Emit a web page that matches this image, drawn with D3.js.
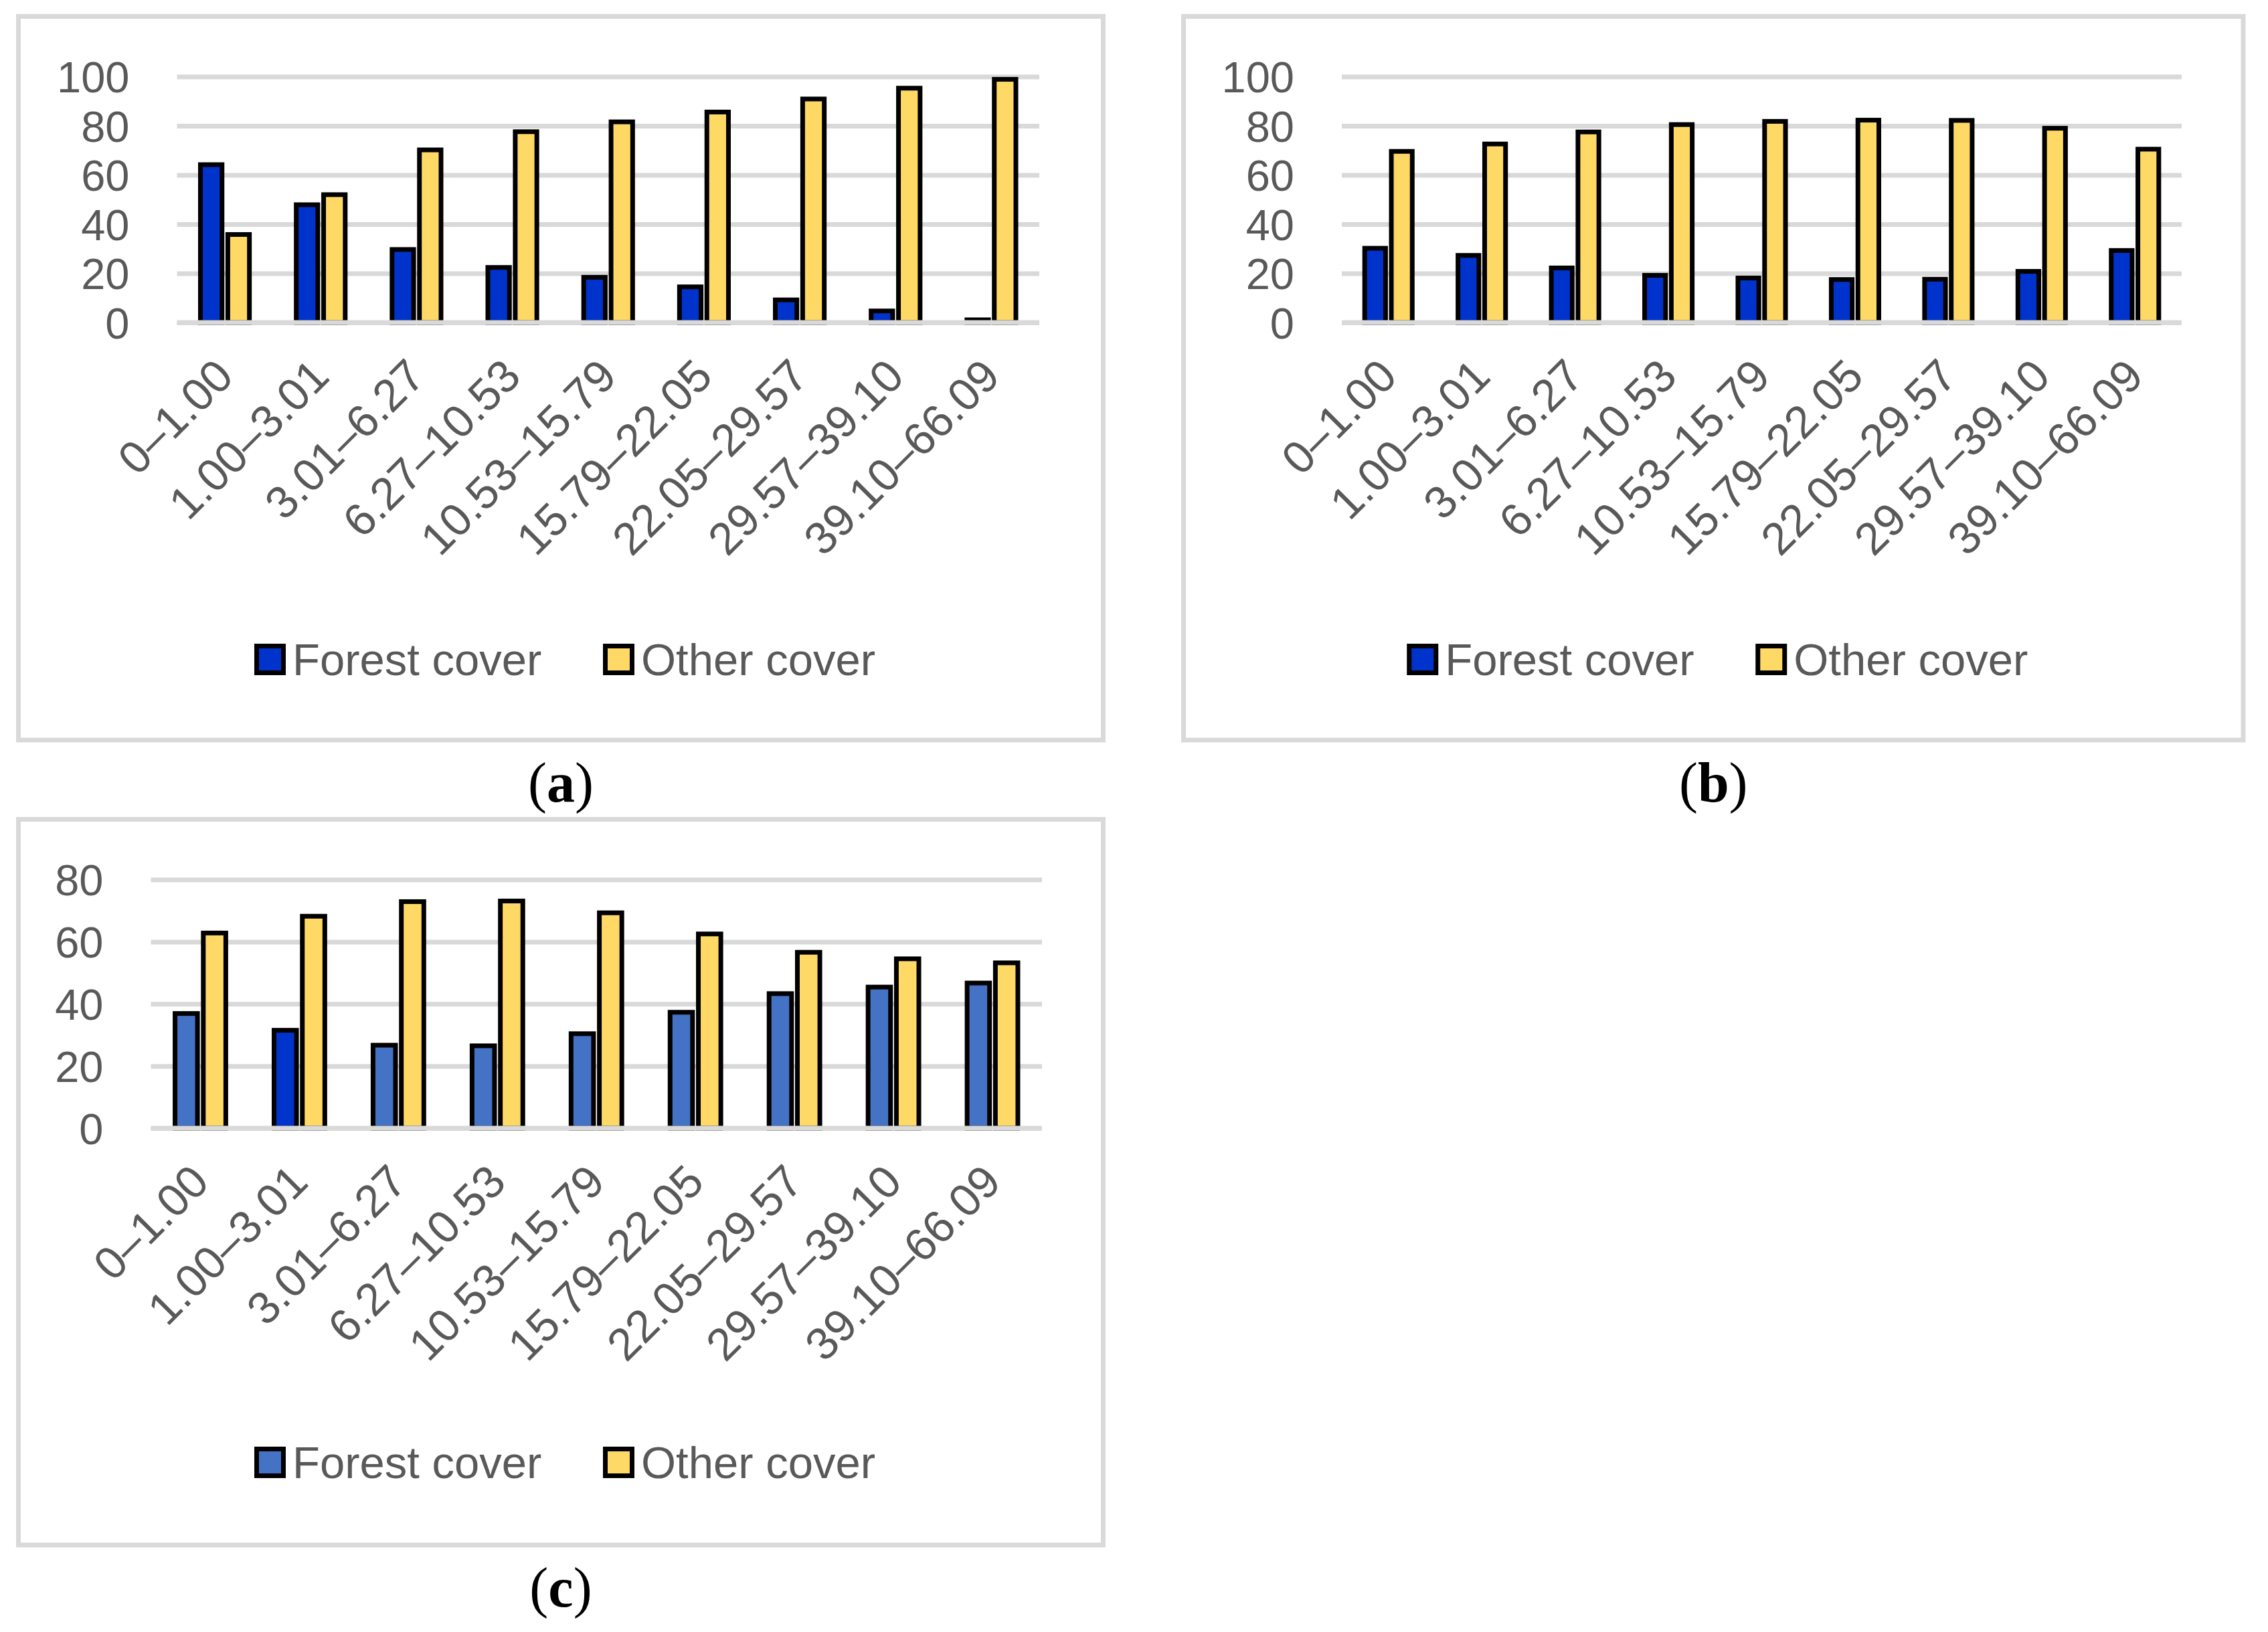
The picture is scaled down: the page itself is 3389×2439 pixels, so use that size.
<!DOCTYPE html>
<html lang="en">
<head>
  <meta charset="UTF-8">
  <title>Forest cover and other cover by class</title>
  <script src="https://cdn.jsdelivr.net/npm/d3@7/dist/d3.min.js"></script>
  <style>
    body {
      margin: 0;
      background-color: #fff;
    }
    svg text {
      font-family: "Liberation Sans", Arial, sans-serif;
      fill: #595959;
    }
    svg text.caption {
      font-family: "Liberation Serif", "Times New Roman", serif;
      fill: #000;
    }
  </style>
</head>
<body>
  <div id="chart"></div>
  <script>
    // categories (class ranges) shared by the three panels
    const categories = ["0–1.00", "1.00–3.01", "3.01–6.27", "6.27–10.53", "10.53–15.79",
      "15.79–22.05", "22.05–29.57", "29.57–39.10", "39.10–66.09"];
    const seriesNames = ["Forest cover", "Other cover"];

    // panel (a)
    const forestA = [64.2, 47.9, 29.7, 22.4, 18.4, 14.5, 9.2, 4.7, 1.1];
    const otherA = [35.8, 52.0, 70.2, 77.6, 81.6, 85.6, 90.9, 95.3, 98.9];
    // panel (b)
    const forestB = [30.2, 27.3, 22.2, 19.2, 18.1, 17.5, 17.6, 20.8, 29.3];
    const otherB = [69.6, 72.6, 77.5, 80.5, 81.8, 82.3, 82.2, 79.0, 70.5];
    // panel (c)
    const forestC = [36.9, 31.5, 26.7, 26.5, 30.4, 37.3, 43.3, 45.4, 46.7];
    const otherC = [62.8, 68.2, 72.9, 73.1, 69.3, 62.5, 56.6, 54.5, 53.2];

    const ticksAB = [0, 20, 40, 60, 80, 100];
    const ticksC = [0, 20, 40, 60, 80];
    const panelLetters = ["a", "b", "c"];

    const darkBlue = "#0033CC";
    const midBlue = "#4472C4";
    const yellow = "#FFD966";
    const gridColor = "#D9D9D9";

    const W = 3389, H = 2439;
    const svg = d3.select("#chart").append("svg")
      .attr("width", W)
      .attr("height", H);

    svg.append("rect").attr("width", W).attr("height", H).attr("fill", "#fff");

    const panels = [
      { letter: panelLetters[0], forest: forestA, other: otherA, ticks: ticksAB,
        box: { x0: 27.5, y0: 24.5, x1: 1648.5, y1: 1106 },
        plot: { x0: 264.5, x1: 1553, yTop: 114.5, yBottom: 482 },
        forestColor: () => darkBlue, legendColor: darkBlue, captionY: 1198 },
      { letter: panelLetters[1], forest: forestB, other: otherB, ticks: ticksAB,
        box: { x0: 1768.5, y0: 24.5, x1: 3352, y1: 1106 },
        plot: { x0: 2005, x1: 3260, yTop: 114.5, yBottom: 482 },
        forestColor: () => darkBlue, legendColor: darkBlue, captionY: 1198 },
      { letter: panelLetters[2], forest: forestC, other: otherC, ticks: ticksC,
        box: { x0: 27.5, y0: 1224.5, x1: 1648.5, y1: 2309 },
        plot: { x0: 225.5, x1: 1557, yTop: 1314.5, yBottom: 1686 },
        // second class is drawn in the darker blue in the original
        forestColor: i => i === 1 ? darkBlue : midBlue, legendColor: midBlue, captionY: 2401 }
    ];

    const barStroke = 7;

    panels.forEach(p => {
      const g = svg.append("g");

      // outer frame
      g.append("rect")
        .attr("x", p.box.x0).attr("y", p.box.y0)
        .attr("width", p.box.x1 - p.box.x0)
        .attr("height", p.box.y1 - p.box.y0)
        .attr("fill", "#fff")
        .attr("stroke", gridColor)
        .attr("stroke-width", 7);

      const y = d3.scaleLinear()
        .domain([0, d3.max(p.ticks)])
        .range([p.plot.yBottom, p.plot.yTop]);

      const x0 = d3.scaleBand()
        .domain(categories)
        .range([p.plot.x0, p.plot.x1])
        .paddingInner(0.44)
        .paddingOuter(0.22);

      const x1 = d3.scaleBand()
        .domain(seriesNames)
        .range([0, x0.bandwidth()])
        .paddingInner(0.04);

      // y axis with gridlines
      const yAxis = g.append("g")
        .attr("transform", `translate(${p.plot.x0},0)`)
        .call(d3.axisLeft(y)
          .tickValues(p.ticks)
          .tickSize(-(p.plot.x1 - p.plot.x0))
          .tickPadding(71));
      yAxis.select(".domain").remove();
      yAxis.selectAll(".tick line")
        .attr("stroke", gridColor)
        .attr("stroke-width", 7);
      yAxis.selectAll(".tick text")
        .attr("font-size", 65)
        .attr("dy", "0.36em")
        .style("fill", "#595959");

      // bars
      const rows = categories.map((c, i) => ({ cat: c, i: i, values: [p.forest[i], p.other[i]] }));
      const groups = g.selectAll("g.grp")
        .data(rows)
        .enter()
        .append("g")
        .attr("class", "grp")
        .attr("transform", d => `translate(${x0(d.cat)},0)`);

      groups.selectAll("rect")
        .data(d => d.values.map((v, k) => ({ key: seriesNames[k], value: v, k: k, i: d.i })))
        .enter()
        .append("rect")
        .attr("x", d => x1(d.key) + barStroke / 2)
        .attr("width", x1.bandwidth() - barStroke)
        .attr("y", d => y(d.value))
        .attr("height", d => y(0) - y(d.value))
        .attr("fill", d => d.k === 0 ? p.forestColor(d.i) : yellow)
        .attr("stroke", "#000")
        .attr("stroke-width", barStroke);

      // baseline on top of bars
      g.append("line")
        .attr("x1", p.plot.x0).attr("x2", p.plot.x1)
        .attr("y1", y(0)).attr("y2", y(0))
        .attr("stroke", gridColor)
        .attr("stroke-width", 7);

      // x axis labels, rotated
      const xAxis = g.append("g")
        .attr("transform", `translate(0,${y(0)})`)
        .call(d3.axisBottom(x0).tickSize(0));
      xAxis.select(".domain").remove();
      xAxis.selectAll(".tick text")
        .attr("font-size", 68)
        .attr("y", 0)
        .attr("dy", 0)
        .attr("text-anchor", "end")
        .attr("transform", "translate(16,84) rotate(-45)")
        .style("fill", "#595959");

      // legend
      const cx = (p.box.x0 + p.box.x1) / 2;
      const legendY = p.box.y0 + 961;
      const legendItems = [
        { name: seriesNames[0], color: p.legendColor, sx: cx - 458, tx: cx - 401 },
        { name: seriesNames[1], color: yellow, sx: cx + 63, tx: cx + 120 }
      ];
      legendItems.forEach(it => {
        g.append("rect")
          .attr("x", it.sx + 3.5).attr("y", legendY - 20)
          .attr("width", 40).attr("height", 40)
          .attr("fill", it.color)
          .attr("stroke", "#000")
          .attr("stroke-width", 7);
        g.append("text")
          .attr("x", it.tx)
          .attr("y", legendY + 23)
          .attr("font-size", 67)
          .text(it.name);
      });

      // caption
      const cap = svg.append("text")
        .attr("class", "caption")
        .attr("x", cx)
        .attr("y", p.captionY)
        .attr("text-anchor", "middle")
        .attr("font-size", 84);
      cap.append("tspan").text("(");
      cap.append("tspan").attr("font-weight", "bold").text(p.letter);
      cap.append("tspan").text(")");
    });
  </script>
</body>
</html>
